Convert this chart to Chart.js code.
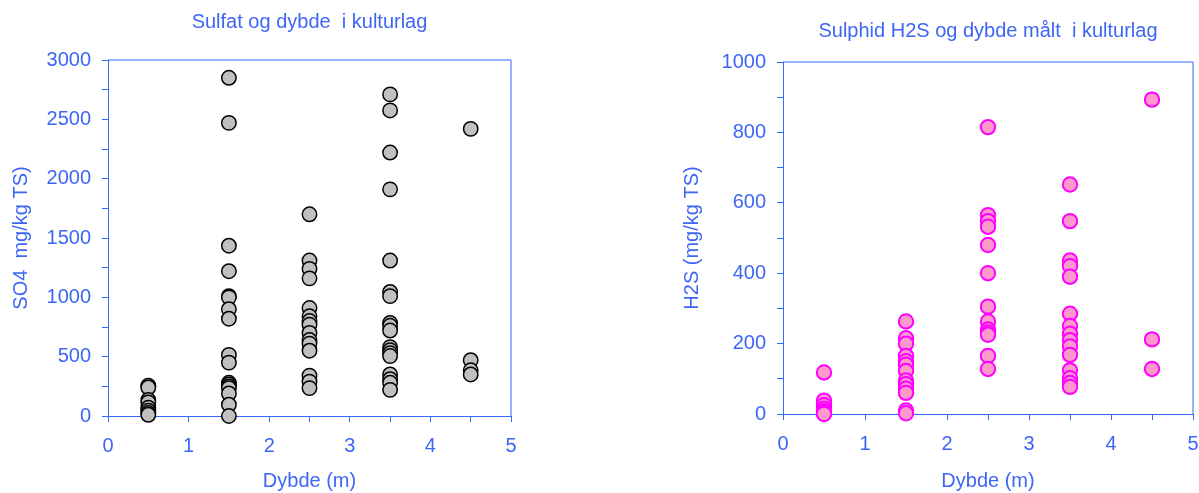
<!DOCTYPE html>
<html>

<head>
  <title>Sulfat og sulphid i kulturlag</title>
  <script src="https://cdn.jsdelivr.net/npm/chart.js"></script>
  <style>
    body { margin: 0; width: 1199px; height: 493px; overflow: hidden; background: #fff; position: relative; }
    canvas { position: absolute; top: 0; }
  </style>
</head>

<body>
  <canvas id="so4Chart" width="624" height="493" style="left:0"></canvas>
  <canvas id="h2sChart" width="636" height="493" style="left:660px"></canvas>
  <script>
    // depth (m) and the measured values at each depth
    const dybder = [0.5, 1.5, 2.5, 3.5, 4.5];

    const so4Dybde05 = [255, 240, 135, 115, 70, 45, 25, 10];
    const so4Dybde15 = [2850, 2470, 1435, 1220, 1010, 1000, 900, 820, 515, 450, 280, 265, 250, 235, 190, 95, 0];
    const so4Dybde25 = [1700, 1310, 1240, 1160, 910, 840, 800, 770, 700, 640, 610, 550, 340, 290, 235];
    const so4Dybde35 = [2710, 2575, 2220, 1910, 1310, 1045, 1010, 785, 760, 720, 580, 555, 530, 505, 350, 310, 280, 220];
    const so4Dybde45 = [2420, 470, 385, 350];

    const h2sDybde05 = [118, 38, 25, 15, 8, 3, 0];
    const h2sDybde15 = [263, 215, 200, 165, 150, 140, 122, 95, 85, 72, 60, 10, 2];
    const h2sDybde25 = [815, 565, 548, 532, 480, 400, 305, 263, 240, 232, 225, 165, 128];
    const h2sDybde35 = [652, 548, 436, 420, 390, 285, 250, 228, 210, 192, 168, 124, 102, 88, 77];
    const h2sDybde45 = [893, 212, 128];

    const xTickLabels = [0, 1, 2, 3, 4, 5];
    const so4TickLabels = [0, 500, 1000, 1500, 2000, 2500, 3000];
    const h2sTickLabels = [0, 200, 400, 600, 800, 1000];

    const so4Serier = [so4Dybde05, so4Dybde15, so4Dybde25, so4Dybde35, so4Dybde45];
    const h2sSerier = [h2sDybde05, h2sDybde15, h2sDybde25, h2sDybde35, h2sDybde45];

    const toPoints = (serier) => dybder.flatMap((d, i) => serier[i].map(v => ({ x: d, y: v })));

    const blue = '#3366ff';
    const textBlue = '#3d66f5';
    const fontFamily = '"Liberation Sans", Arial, sans-serif';

    // top and right edge of the plot frame
    const framePlugin = {
      id: 'frame',
      afterDraw(chart) {
        const { ctx, chartArea: a } = chart;
        ctx.save();
        ctx.strokeStyle = blue;
        ctx.lineWidth = 1;
        ctx.beginPath();
        ctx.moveTo(a.left, a.top);
        ctx.lineTo(a.right, a.top);
        ctx.lineTo(a.right, a.bottom);
        ctx.stroke();
        ctx.restore();
      }
    };

    function makeChart(id, cfg) {
      return new Chart(document.getElementById(id).getContext('2d'), {
        type: 'scatter',
        data: {
          datasets: [{
            data: toPoints(cfg.serier),
            backgroundColor: cfg.fill,
            borderColor: cfg.stroke,
            borderWidth: cfg.strokeWidth,
            pointRadius: 7.2,
            pointHoverRadius: 7.2,
            clip: false
          }]
        },
        options: {
          responsive: false,
          devicePixelRatio: 1,
          animation: false,
          layout: { padding: { left: 0, right: cfg.padRight, top: 0, bottom: 0 } },
          plugins: {
            legend: { display: false },
            tooltip: { enabled: false },
            title: {
              display: true,
              text: cfg.title,
              color: textBlue,
              fullSize: false,
              font: { family: fontFamily, size: 20, weight: 'normal' },
              padding: cfg.titlePad
            }
          },
          scales: {
            x: {
              type: 'linear',
              min: 0, max: 5,
              afterFit: (s) => { s.height = cfg.xHeight; },
              border: { color: blue, width: 1 },
              grid: { drawOnChartArea: false, color: blue, tickLength: 6 },
              ticks: {
                stepSize: 0.5, autoSkip: false, padding: 12,
                color: textBlue, font: { family: fontFamily, size: 20 },
                callback: (v) => xTickLabels.includes(v) ? v : ''
              },
              title: {
                display: true, text: 'Dybde (m)', color: textBlue,
                font: { family: fontFamily, size: 20 }, padding: { top: 0, bottom: 0 }
              }
            },
            y: {
              type: 'linear',
              min: 0, max: cfg.yMax,
              afterFit: (s) => { s.width = cfg.yWidth; },
              border: { color: blue, width: 1 },
              grid: { drawOnChartArea: false, color: blue, tickLength: 6 },
              ticks: {
                stepSize: cfg.yStep, autoSkip: false, padding: 11,
                color: textBlue, font: { family: fontFamily, size: 20 },
                callback: (v) => cfg.yLabels.includes(v) ? v : ''
              },
              title: {
                display: true, text: cfg.yTitle, color: textBlue,
                font: { family: fontFamily, size: 20 }, padding: { top: cfg.yTitlePad, bottom: 0 }
              }
            }
          }
        },
        plugins: [framePlugin]
      });
    }

    makeChart('so4Chart', {
      serier: so4Serier,
      fill: '#c0c0c0', stroke: '#000000', strokeWidth: 1.5,
      title: 'Sulfat og dybde  i kulturlag',
      titlePad: { top: 10, bottom: 26 },
      yTitle: 'SO4  mg/kg TS)', yTitlePad: 9.5,
      yMax: 3000, yStep: 250, yLabels: so4TickLabels,
      yWidth: 108, xHeight: 77, padRight: 113
    });

    makeChart('h2sChart', {
      serier: h2sSerier,
      fill: '#ff99cc', stroke: '#ff00ff', strokeWidth: 2,
      title: 'Sulphid H2S og dybde målt  i kulturlag',
      titlePad: { top: 19, bottom: 19 },
      yTitle: 'H2S (mg/kg TS)', yTitlePad: 20.5,
      yMax: 1000, yStep: 100, yLabels: h2sTickLabels,
      yWidth: 123, xHeight: 79, padRight: 103
    });
  </script>
</body>

</html>
